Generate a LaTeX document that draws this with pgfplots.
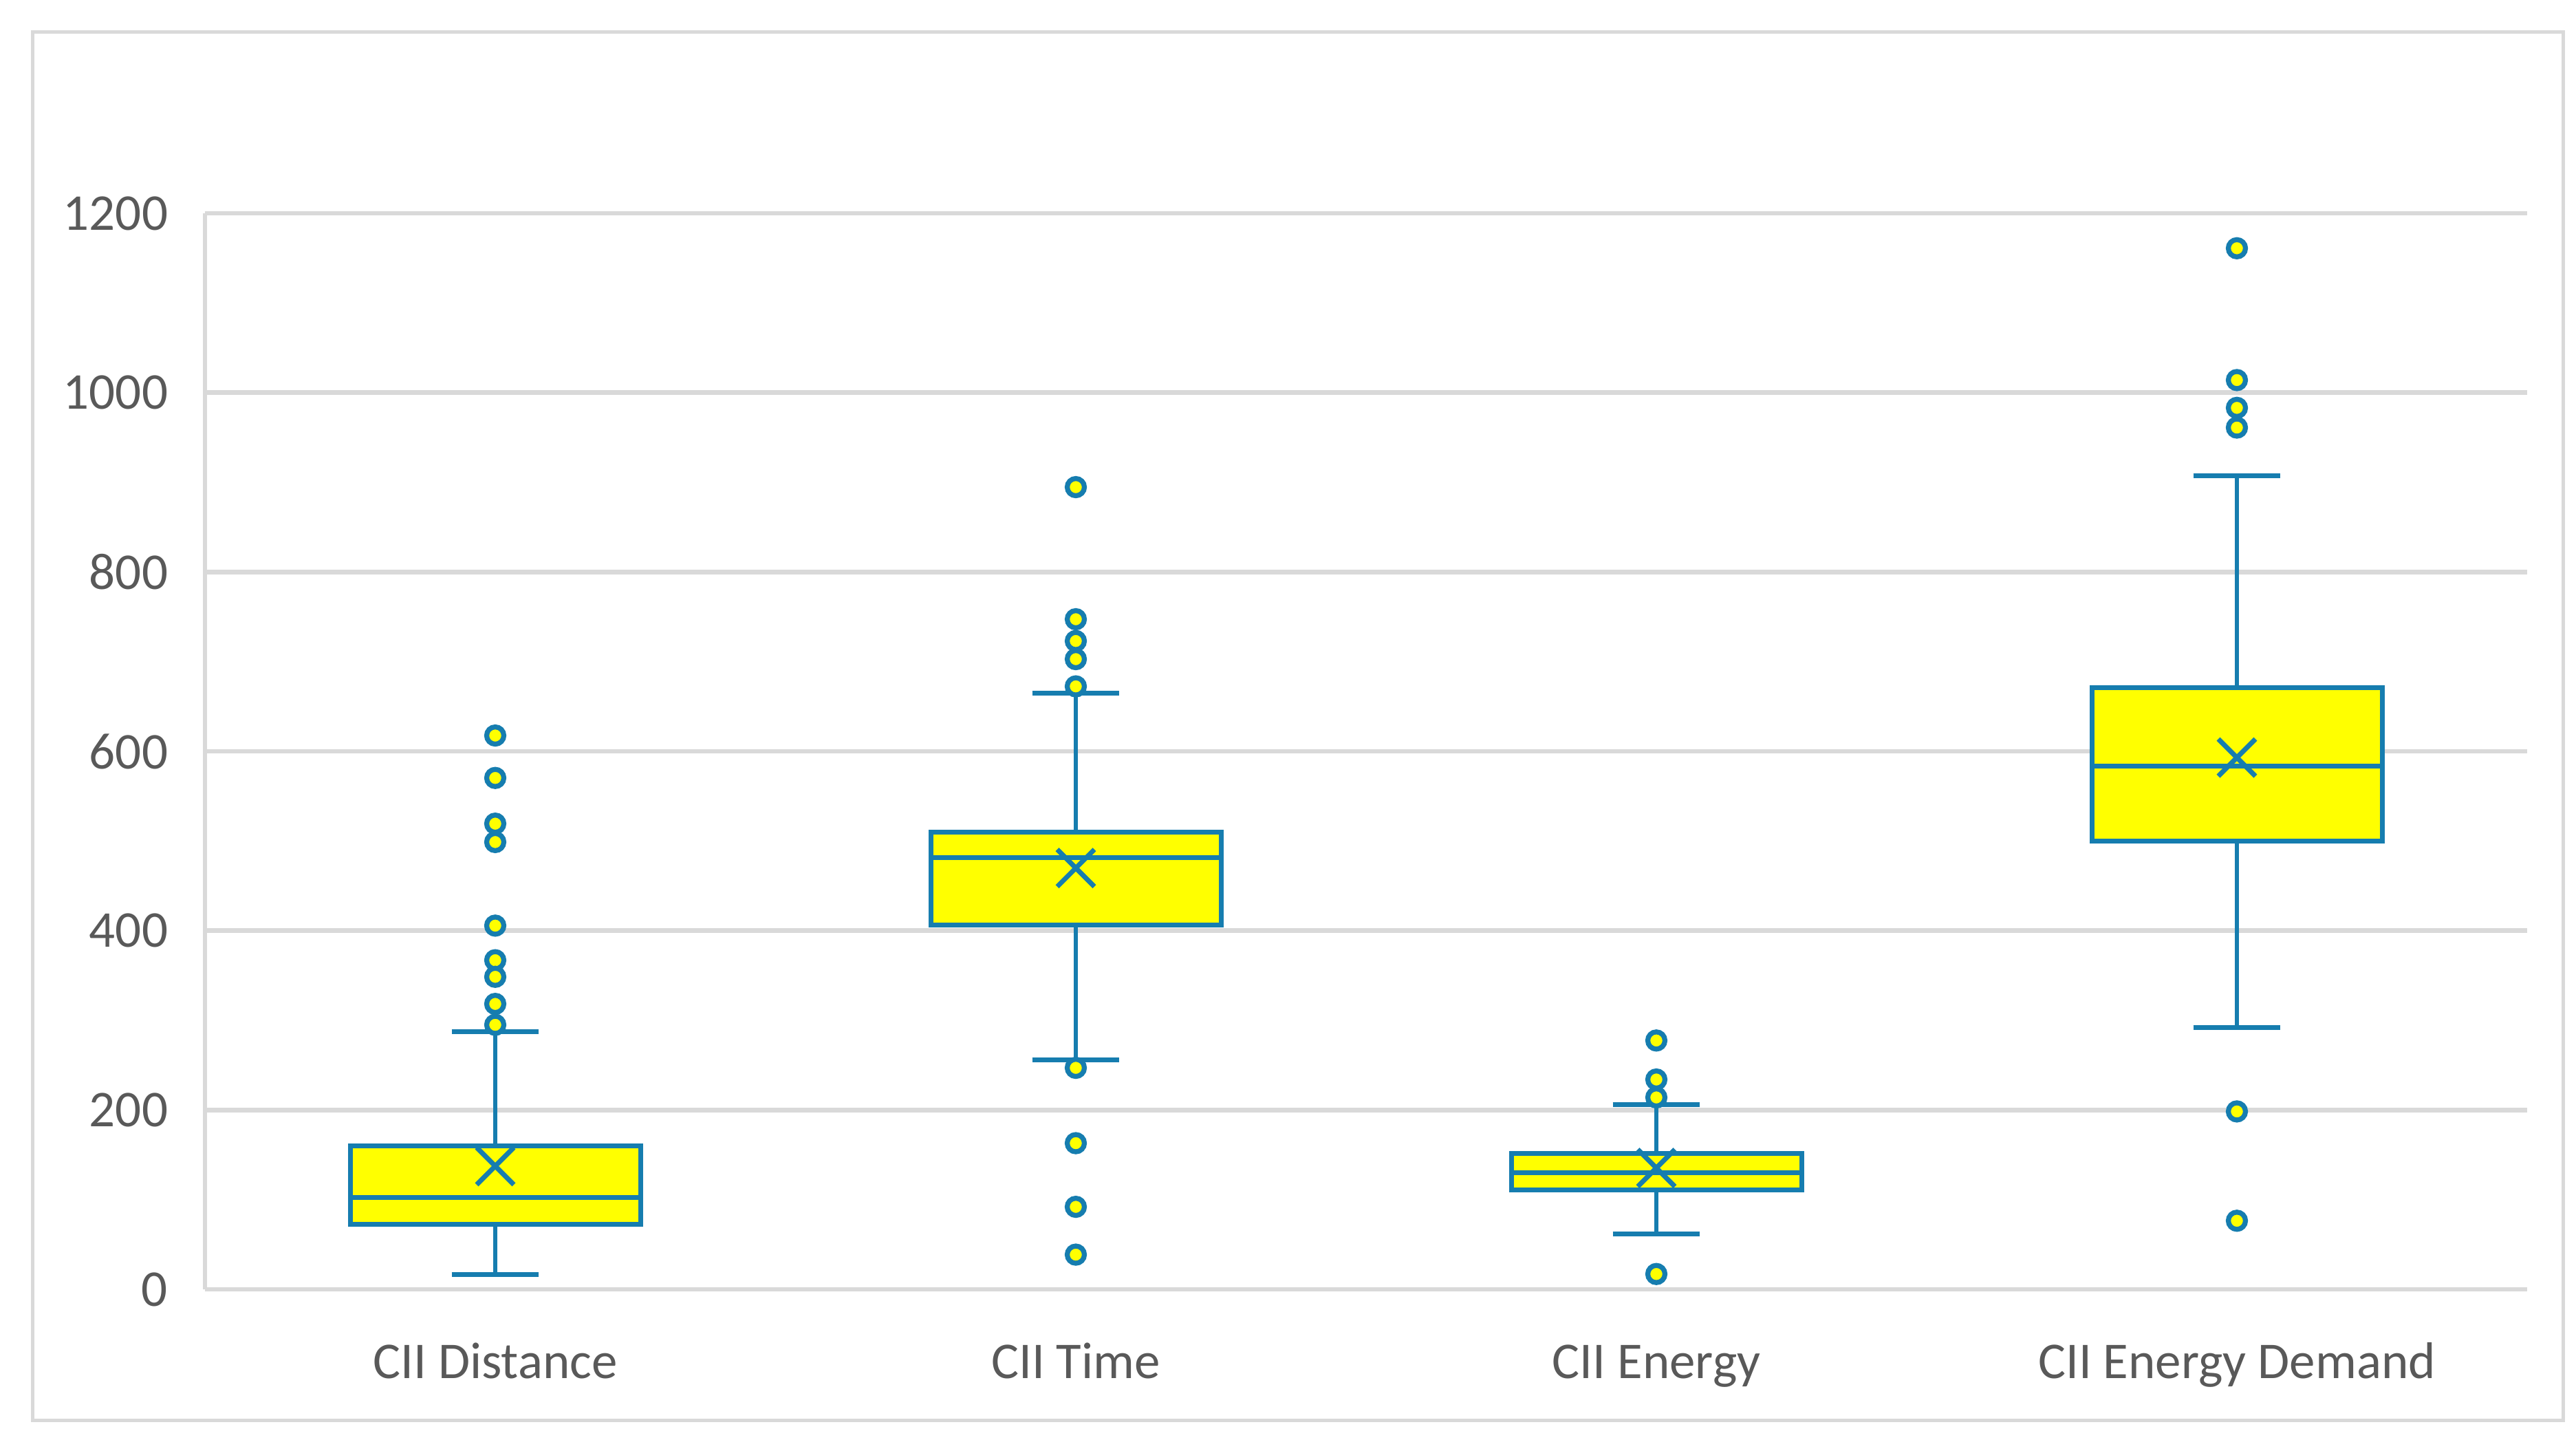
\documentclass[border=0pt]{standalone}
\usepackage{fontspec}
\setmainfont{Carlito}
\usepackage{pgfplots}
\pgfplotsset{compat=1.18}
\usepgfplotslibrary{statistics}
\definecolor{bxblue}{RGB}{22,125,175}
\definecolor{bxyellow}{RGB}{255,255,0}
\definecolor{gridgray}{RGB}{217,217,217}
\definecolor{txtgray}{RGB}{89,89,89}
\begin{document}
\begin{tikzpicture}
\begin{axis}[
  at={(0,0)}, anchor=south west,
  scale only axis,
  width=675.2pt, height=312.8pt,
  xmin=-0.5, xmax=3.5,
  ymin=0, ymax=1200,
  xtick={0,1,2,3},
  xticklabels={CII Distance, CII Time, CII Energy, CII Energy Demand},
  ytick={0,200,400,600,800,1000,1200},
  /pgf/number format/assume math mode=true,
  /pgf/number format/1000 sep={},
  ticklabel style={font=\fontsize{15}{18}\selectfont, text=txtgray},
  xticklabel style={anchor=base, inner sep=0pt, yshift=-25.8pt},
  yticklabel style={anchor=east, inner sep=0pt, xshift=-10.6pt},
  major tick length=0pt,
  tick style={draw=none},
  axis x line*=bottom,
  axis y line*=left,
  axis line style={draw=gridgray, line width=1.25pt},
  ymajorgrids,
  grid style={draw=gridgray, line width=1.3pt},
  clip=false,
  boxplot/draw direction=y,
  boxplot/box extend=0.5,
  boxplot/whisker extend=0.15,
  boxplot/every box/.style={draw=bxblue, fill=bxyellow, line width=1.4pt},
  boxplot/every whisker/.style={draw=bxblue, line width=1.35pt},
  boxplot/every median/.style={draw=bxblue, line width=1.4pt},
  boxplot/draw/average/.code={
    \draw[draw=bxblue, line width=1.4pt]
      (boxplot box cs:\pgfplotsboxplotvalue{average},0.5) ++(-5.4pt,-5.4pt) -- ++(10.8pt,10.8pt)
      ++(0pt,-10.8pt) -- ++(-10.8pt,10.8pt);
  },
  every axis plot/.append style={
    draw=bxblue,
    mark=*, mark size=2.5pt,
    mark options={draw=bxblue, fill=bxyellow, line width=1.45pt, solid}
  },
]
% CII Distance
\addplot[boxplot prepared={draw position=0,
  lower whisker=16.7, lower quartile=72.4, median=102.6,
  upper quartile=159.6, upper whisker=287.2, average=137.4}]
  coordinates {(0,617.6) (0,570.3) (0,519.3) (0,498.8) (0,405.6)
               (0,367.0) (0,348.5) (0,318.3) (0,295.0)};
% CII Time
\addplot[boxplot prepared={draw position=1,
  lower whisker=255.9, lower quartile=406.3, median=481.3,
  upper quartile=509.8, upper whisker=664.8, average=469.8}]
  coordinates {(1,894.6) (1,747.3) (1,723.0) (1,702.8) (1,672.4)
               (1,247.0) (1,163.0) (1,92.0) (1,38.7)};
% CII Energy
\addplot[boxplot prepared={draw position=2,
  lower whisker=61.9, lower quartile=110.5, median=129.7,
  upper quartile=151.9, upper whisker=206.0, average=135.3}]
  coordinates {(2,277.5) (2,234.0) (2,214.0) (2,17.1)};
% CII Energy Demand
\addplot[boxplot prepared={draw position=3,
  lower whisker=292.0, lower quartile=500.0, median=583.6,
  upper quartile=671.0, upper whisker=907.0, average=593.0}]
  coordinates {(3,1161.0) (3,1014.0) (3,983.0) (3,961.0) (3,198.4) (3,76.5)};
\end{axis}
\draw[draw=gridgray, line width=1pt] (-50.1pt,-38.1pt) rectangle (685.6pt,365.5pt);
\pgfresetboundingbox
\path (-59.6pt,-40.4pt) rectangle (689.4pt,374.8pt);
\end{tikzpicture}
\end{document}
